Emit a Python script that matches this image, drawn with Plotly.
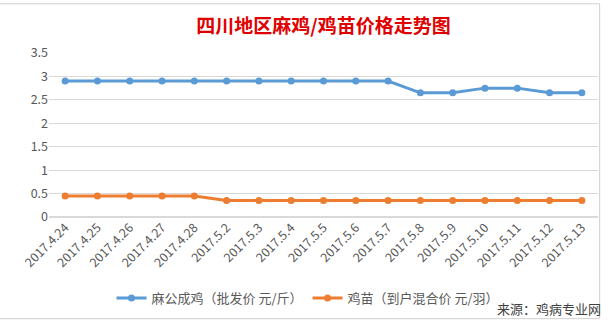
import plotly.graph_objects as go

dates = ["2017.4.24", "2017.4.25", "2017.4.26", "2017.4.27", "2017.4.28",
         "2017.5.2", "2017.5.3", "2017.5.4", "2017.5.5", "2017.5.6", "2017.5.7",
         "2017.5.8", "2017.5.9", "2017.5.10", "2017.5.11", "2017.5.12", "2017.5.13"]
adult_price = [2.9, 2.9, 2.9, 2.9, 2.9, 2.9, 2.9, 2.9, 2.9, 2.9, 2.9,
               2.65, 2.65, 2.75, 2.75, 2.65, 2.65]
chick_price = [0.45, 0.45, 0.45, 0.45, 0.45, 0.35, 0.35, 0.35, 0.35, 0.35, 0.35,
               0.35, 0.35, 0.35, 0.35, 0.35, 0.35]
series_names = ["麻公成鸡（批发价 元/斤）", "鸡苗（到户混合价 元/羽）"]
title_text = "四川地区麻鸡/鸡苗价格走势图"
source_text = "来源：鸡病专业网"

FONT = "Noto Sans CJK SC"

fig = go.Figure()
fig.add_trace(go.Scatter(x=dates, y=adult_price, name=series_names[0], mode="lines+markers",
                         line=dict(color="#5B9BD5", width=3), marker=dict(size=7, color="#5B9BD5")))
fig.add_trace(go.Scatter(x=dates, y=chick_price, name=series_names[1], mode="lines+markers",
                         line=dict(color="#ED7D31", width=3), marker=dict(size=7, color="#ED7D31")))

fig.update_layout(
    width=616, height=324,
    margin=dict(l=49, r=18, t=53, b=107),
    paper_bgcolor="white", plot_bgcolor="white",
    font=dict(family=FONT, size=12, color="#595959"),
    title=dict(text=title_text, x=0.5, xref="paper", xanchor="center", y=0.92, yanchor="middle",
               font=dict(family=FONT, size=19, color="#E00000", weight="bold")),
    xaxis=dict(type="category", tickangle=-45, showgrid=False, showline=False, ticks="",
               tickfont=dict(size=12.5, color="#595959"), range=[-0.5, 16.5]),
    yaxis=dict(range=[0, 3.5], dtick=0.5, showgrid=True, gridcolor="#D9D9D9", gridwidth=1,
               zeroline=True, zerolinecolor="#D9D9D9", showline=False, ticks="",
               tickfont=dict(size=12.5, color="#595959")),
    legend=dict(orientation="h", x=0.5, xref="container", xanchor="center", y=0.08, yref="container",
                yanchor="middle", font=dict(size=13, color="#595959"), itemwidth=30,
                tracegroupgap=0),
    showlegend=True,
)
fig.add_annotation(text=source_text, xref="paper", yref="paper", x=1.01, y=-0.56,
                   xanchor="right", yanchor="middle", showarrow=False,
                   font=dict(family=FONT, size=13, color="#404040"))
fig.add_shape(type="rect", xref="paper", yref="paper", x0=-0.28, x1=1.003, y0=-0.62, y1=1.3,
              line=dict(color="#D0D0D0", width=1), layer="below")

fig.write_html("out.html")
